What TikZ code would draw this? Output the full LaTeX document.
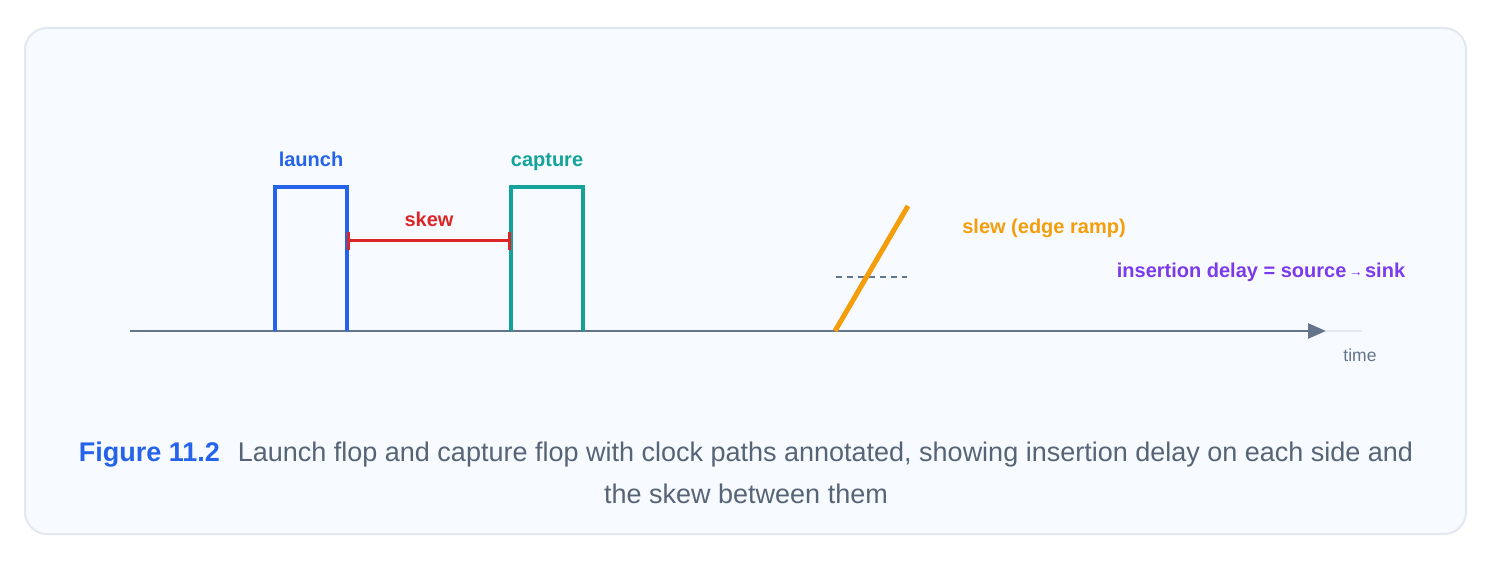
\documentclass[tikz,border=0pt]{standalone}
\usepackage{fontspec}
\setmainfont{Liberation Sans}
\usetikzlibrary{arrows.meta}
\definecolor{panelfill}{HTML}{F7FAFE}
\definecolor{panelline}{HTML}{E2E8F0}
\definecolor{axiscol}{HTML}{64748B}
\definecolor{launchcol}{HTML}{2563EB}
\definecolor{capturecol}{HTML}{14A39A}
\definecolor{skewcol}{HTML}{DC2626}
\definecolor{slewcol}{HTML}{F59E0B}
\definecolor{inscol}{HTML}{7C3AED}
\definecolor{captext}{HTML}{566477}
\tikzset{
  lbl/.style={font=\fontsize{20}{24}\selectfont\bfseries, inner sep=0pt, anchor=base},
  pulse/.style={line width=4pt, line join=miter},
  captxt/.style={inner sep=0pt, anchor=base, font=\fontsize{27}{32}\selectfont, text=captext},
}
\begin{document}
\begin{tikzpicture}[x=1pt,y=-1pt]
\useasboundingbox (0,0) rectangle (1494,561);
\draw[panelline, fill=panelfill, line width=2pt, rounded corners=22pt] (25,28) rectangle (1466,534);
% axis
\coordinate (ax0) at (130,331);
\coordinate (axtip) at (1326,331);
\coordinate (axend) at (1362,331);
\draw[panelline, line width=2.5pt] (axtip) -- (axend);
\draw[axiscol, line width=2.5pt, -{Triangle[length=18pt,width=15pt]}] (ax0) -- (axtip);
\node[font=\fontsize{17.5}{20}\selectfont, text=axiscol, inner sep=0pt, anchor=base] (time) at (1360,361) {time};
% launch pulse
\coordinate (l0) at (275,331);
\coordinate (l1) at (275,187);
\coordinate (l2) at (347,187);
\coordinate (l3) at (347,331);
\draw[pulse, launchcol] (l0) -- (l1) -- (l2) -- (l3);
\node[lbl, text=launchcol] (launch) at (311,167) {launch};
% capture pulse
\coordinate (c0) at (511,331);
\coordinate (c1) at (511,187);
\coordinate (c2) at (583,187);
\coordinate (c3) at (583,331);
\draw[pulse, capturecol] (c0) -- (c1) -- (c2) -- (c3);
\node[lbl, text=capturecol] (capture) at (547,167) {capture};
% skew
\coordinate (s0) at (347,241);
\coordinate (s1) at (511,241);
\draw[skewcol, line width=3pt, {Bar[width=18pt,line width=3pt]}-{Bar[width=18pt,line width=3pt]}] (s0) -- (s1);
\node[lbl, text=skewcol] (skew) at (429,227) {skew};
% slew
\coordinate (d0) at (836,277);
\coordinate (d1) at (907,277);
\draw[axiscol, line width=1.5pt, dash pattern=on 6pt off 5pt] (d0) -- (d1);
\coordinate (r0) at (835,331);
\coordinate (r1) at (908,206);
\draw[slewcol, line width=5pt] (r0) -- (r1);
\node[lbl, text=slewcol] (slew) at (1044,234) {slew (edge ramp)};
\node[lbl, text=inscol] (ins) at (1261,278) {insertion delay = source{\fontsize{14}{14}\selectfont\,\raisebox{1pt}{→}\,}sink};
% caption
\node[captxt] (cap1) at (746,461)
  {\textcolor{launchcol}{\bfseries Figure 11.2}\hspace{18pt}Launch flop and capture flop with clock paths annotated, showing insertion delay on each side and};
\node[captxt] (cap2) at (746,503) {the skew between them};
\end{tikzpicture}
\end{document}
